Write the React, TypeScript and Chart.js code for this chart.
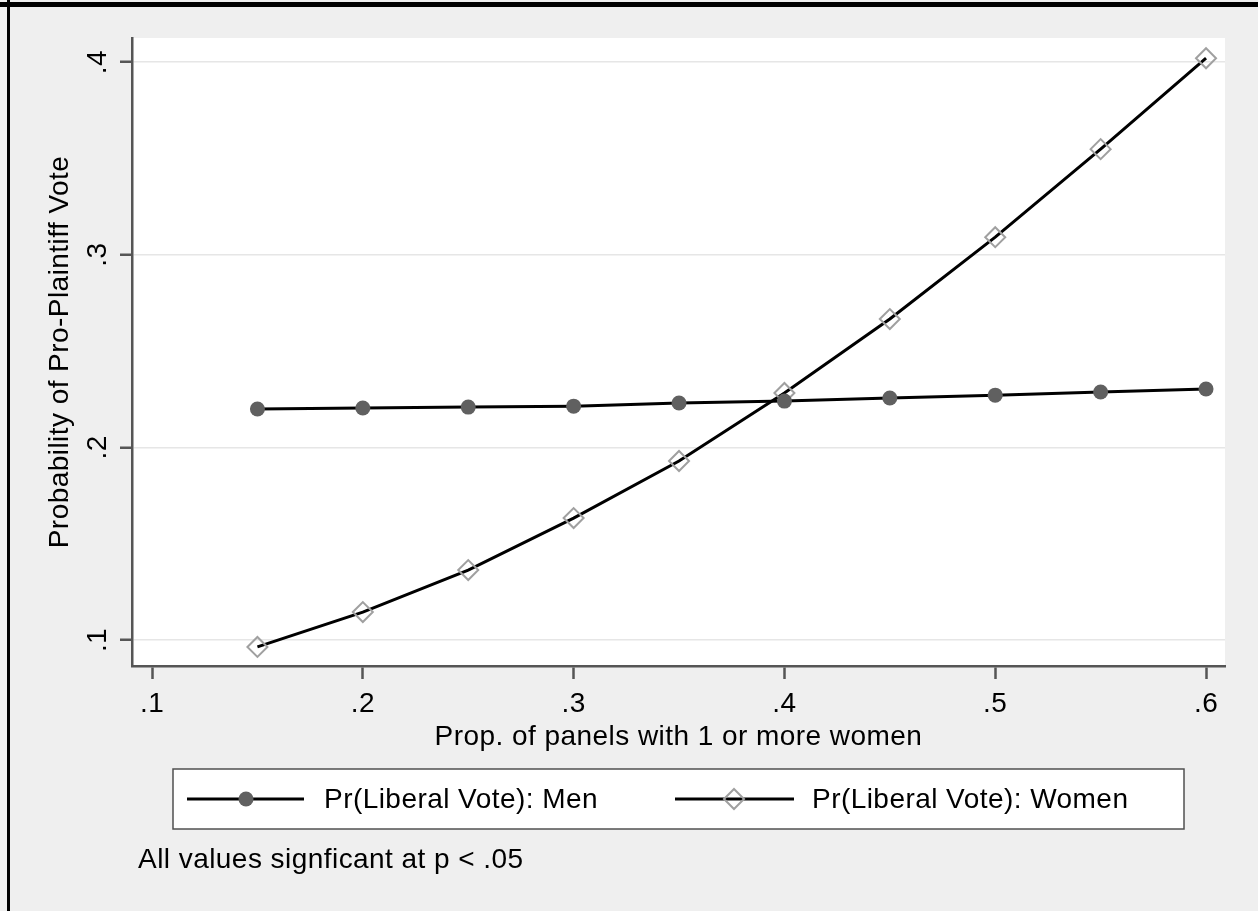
import React, { useEffect, useRef } from 'react';
import { Chart, registerables } from 'chart.js';

Chart.register(...registerables);

// ---- data ----
const xValues = [0.15, 0.2, 0.25, 0.3, 0.35, 0.4, 0.45, 0.5, 0.55, 0.6];
const menValues = [0.2199, 0.2204, 0.2209, 0.2214, 0.223, 0.224, 0.2256, 0.2271, 0.2287, 0.2303];
const womenValues = [0.0964, 0.1145, 0.1363, 0.1633, 0.1929, 0.2282, 0.2666, 0.3091, 0.3548, 0.402];
const xTicks = [0.1, 0.2, 0.3, 0.4, 0.5, 0.6];
const xTickLabels = ['.1', '.2', '.3', '.4', '.5', '.6'];
const yTicks = [0.1, 0.2, 0.3, 0.4];
const yTickLabels = ['.1', '.2', '.3', '.4'];
const seriesLabels = ['Pr(Liberal Vote): Men', 'Pr(Liberal Vote): Women'];
const xTitle = 'Prop. of panels with 1 or more women';
const yTitle = 'Probability of Pro-Plaintiff Vote';
const noteText = 'All values signficant at p < .05';

const FONT_FAMILY = '"Liberation Sans", Arial, Helvetica, sans-serif';
const LETTER_SPACING = '0.45px';
const TEXT_SIZE = 28;
const TICK_SIZE = 28;
const AXIS_COLOR = '#555555';
const MEN_COLOR = '#606060';
const WOMEN_COLOR = '#a0a0a0';

const setSpacing = (chart: any) => {
  const ctx = chart.ctx as any;
  if (ctx && 'letterSpacing' in ctx) ctx.letterSpacing = LETTER_SPACING;
};

const framePlugin = {
  id: 'framePlugin',
  beforeUpdate: (chart: any) => setSpacing(chart),
  beforeLayout: (chart: any) => setSpacing(chart),
  beforeDraw: (chart: any) => {
    setSpacing(chart);
    const { ctx, chartArea, width, height } = chart;
    ctx.save();
    ctx.fillStyle = '#efefef';
    ctx.fillRect(0, 0, width, height);
    ctx.fillStyle = '#ffffff';
    ctx.fillRect(chartArea.left, chartArea.top, chartArea.right - chartArea.left, chartArea.bottom - chartArea.top);
    ctx.restore();
  },
  afterDraw: (chart: any) => {
    const { ctx } = chart;
    ctx.save();
    setSpacing(chart);
    // legend box
    const bx = 173, by = 769, bw = 1011, bh = 60;
    ctx.fillStyle = '#ffffff';
    ctx.fillRect(bx, by, bw, bh);
    ctx.strokeStyle = '#505050';
    ctx.lineWidth = 1.5;
    ctx.strokeRect(bx, by, bw, bh);
    const ly = 799;
    const entries = [
      { x1: 187, x2: 304, mx: 246, tx: 324 },
      { x1: 675, x2: 794, mx: 734, tx: 812 },
    ];
    entries.forEach((e, i) => {
      ctx.strokeStyle = '#000000';
      ctx.lineWidth = 3;
      ctx.beginPath();
      ctx.moveTo(e.x1, ly);
      ctx.lineTo(e.x2, ly);
      ctx.stroke();
      if (i === 0) {
        ctx.fillStyle = MEN_COLOR;
        ctx.beginPath();
        ctx.arc(e.mx, ly, 7.5, 0, Math.PI * 2);
        ctx.fill();
      } else {
        ctx.strokeStyle = WOMEN_COLOR;
        ctx.lineWidth = 2;
        const r = 10;
        ctx.beginPath();
        ctx.moveTo(e.mx - r, ly);
        ctx.lineTo(e.mx, ly - r);
        ctx.lineTo(e.mx + r, ly);
        ctx.lineTo(e.mx, ly + r);
        ctx.closePath();
        ctx.stroke();
      }
      ctx.fillStyle = '#000000';
      ctx.font = `${TEXT_SIZE}px ${FONT_FAMILY}`;
      ctx.textBaseline = 'middle';
      ctx.textAlign = 'left';
      ctx.fillText(seriesLabels[i], e.tx, ly + 1);
    });
    // note
    ctx.fillStyle = '#000000';
    ctx.font = `${TEXT_SIZE}px ${FONT_FAMILY}`;
    ctx.textBaseline = 'middle';
    ctx.textAlign = 'left';
    ctx.fillText(noteText, 138, 860);
    // frame
    ctx.fillStyle = '#000000';
    ctx.fillRect(0, 2, chart.width, 5);
    ctx.fillRect(7, 0, 3, chart.height);
    ctx.restore();
  },
};

export default function App() {
  const canvasRef = useRef<HTMLCanvasElement | null>(null);

  useEffect(() => {
    const canvas = canvasRef.current;
    if (!canvas) return;
    const tickFont = { family: FONT_FAMILY, size: TICK_SIZE };
    const textFont = { family: FONT_FAMILY, size: TEXT_SIZE };

    const chart = new Chart(canvas, {
      type: 'line',
      data: {
        datasets: [
          {
            label: seriesLabels[0],
            data: xValues.map((x, i) => ({ x, y: menValues[i] })),
            borderColor: '#000000',
            borderWidth: 3,
            pointStyle: 'circle',
            pointRadius: 7.5,
            pointBorderWidth: 0,
            pointBackgroundColor: MEN_COLOR,
            pointBorderColor: MEN_COLOR,
            tension: 0,
            fill: false,
          },
          {
            label: seriesLabels[1],
            data: xValues.map((x, i) => ({ x, y: womenValues[i] })),
            borderColor: '#000000',
            borderWidth: 3,
            pointStyle: 'rectRot',
            pointRadius: 10,
            pointBorderWidth: 2,
            pointBackgroundColor: 'rgba(0,0,0,0)',
            pointBorderColor: WOMEN_COLOR,
            tension: 0,
            fill: false,
          },
        ],
      },
      options: {
        animation: false,
        responsive: false,
        devicePixelRatio: 1,
        layout: { padding: { left: 32, top: 38, right: 33, bottom: 145 } },
        plugins: {
          legend: { display: false },
          tooltip: { enabled: false },
          title: { display: false },
        },
        scales: {
          x: {
            type: 'linear',
            min: 0.0905,
            max: 0.609,
            afterBuildTicks: (s: any) => {
              s.ticks = xTicks.map((v) => ({ value: v }));
            },
            afterFit: (s: any) => {
              s.height = 100;
              s.paddingLeft = 0;
              s.paddingRight = 0;
            },
            grid: {
              drawOnChartArea: false,
              drawTicks: true,
              tickLength: 13,
              tickColor: AXIS_COLOR,
              tickWidth: 2.5,
            },
            border: { color: AXIS_COLOR, width: 2.5 },
            ticks: {
              font: tickFont,
              color: '#000000',
              padding: 8,
              maxRotation: 0,
              minRotation: 0,
              autoSkip: false,
              callback: (_v: any, i: number) => xTickLabels[i],
            },
            title: {
              display: true,
              text: xTitle,
              font: textFont,
              color: '#000000',
              padding: { top: 0, bottom: 12 },
            },
          },
          y: {
            type: 'linear',
            min: 0.0865,
            max: 0.4125,
            afterBuildTicks: (s: any) => {
              s.ticks = yTicks.map((v) => ({ value: v }));
            },
            afterFit: (s: any) => {
              s.width = 100;
              s.paddingTop = 0;
              s.paddingBottom = 0;
            },
            grid: {
              color: '#e6e6e6',
              lineWidth: 1.5,
              drawTicks: true,
              tickLength: 12,
              tickColor: AXIS_COLOR,
              tickWidth: 2.5,
            },
            border: { color: AXIS_COLOR, width: 2.5 },
            ticks: {
              font: tickFont,
              color: '#000000',
              padding: 10,
              minRotation: 90,
              maxRotation: 90,
              crossAlign: 'center',
              autoSkip: false,
              callback: (_v: any, i: number) => yTickLabels[i],
            },
            title: {
              display: true,
              text: yTitle,
              font: textFont,
              color: '#000000',
              padding: { top: 11, bottom: 0 },
            },
          },
        },
      },
      plugins: [framePlugin],
    } as any);

    return () => {
      chart.destroy();
    };
  }, []);

  return (
    <div style={{ position: 'absolute', left: 0, top: 0, width: 1258, height: 911, background: '#efefef' }}>
      <canvas ref={canvasRef} width={1258} height={911} style={{ display: 'block', width: 1258, height: 911 }} />
    </div>
  );
}
